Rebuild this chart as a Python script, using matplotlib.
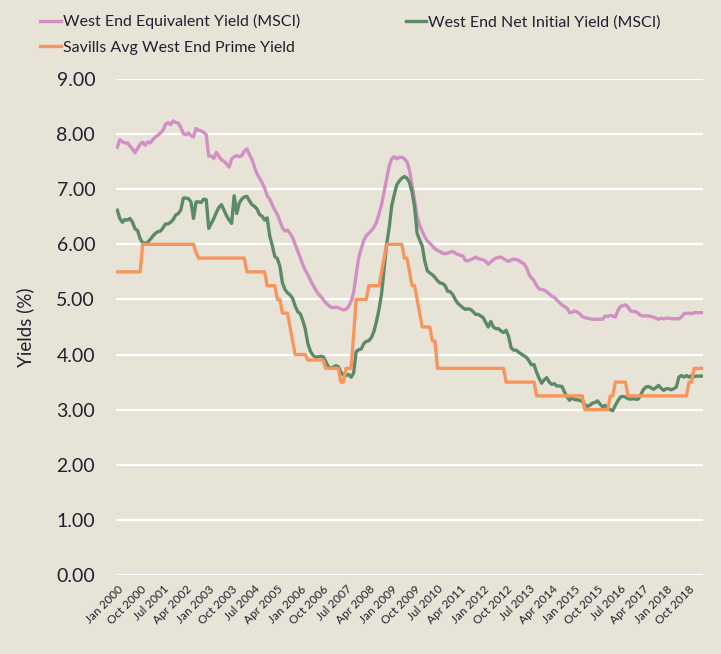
import matplotlib
matplotlib.use("Agg")
import matplotlib.pyplot as plt
import pandas as pd

# ---- data (monthly, Jan 2000 .. Mar 2019) ----
equivalent_yield = [
    7.76, 7.90, 7.86, 7.84, 7.84, 7.78, 7.73, 7.66, 7.74, 7.82,
    7.85, 7.80, 7.86, 7.84, 7.90, 7.95, 7.98, 8.02, 8.07, 8.18,
    8.21, 8.17, 8.24, 8.21, 8.20, 8.12, 8.01, 7.99, 8.02, 7.97,
    7.95, 8.10, 8.07, 8.06, 8.03, 7.99, 7.60, 7.60, 7.56, 7.67,
    7.60, 7.53, 7.51, 7.46, 7.40, 7.55, 7.59, 7.61, 7.59, 7.61,
    7.69, 7.73, 7.63, 7.54, 7.40, 7.28, 7.20, 7.12, 7.02, 6.88,
    6.82, 6.71, 6.62, 6.54, 6.42, 6.30, 6.24, 6.26, 6.20, 6.12,
    6.00, 5.88, 5.76, 5.63, 5.53, 5.45, 5.35, 5.26, 5.18, 5.11,
    5.06, 5.00, 4.94, 4.90, 4.86, 4.85, 4.86, 4.85, 4.83, 4.81,
    4.82, 4.87, 4.96, 5.12, 5.45, 5.75, 5.92, 6.07, 6.16, 6.20,
    6.25, 6.31, 6.40, 6.55, 6.72, 6.95, 7.18, 7.42, 7.55, 7.59,
    7.55, 7.58, 7.58, 7.55, 7.50, 7.35, 7.08, 6.80, 6.50, 6.34,
    6.24, 6.14, 6.06, 6.02, 5.97, 5.92, 5.89, 5.87, 5.84, 5.83,
    5.84, 5.86, 5.87, 5.84, 5.82, 5.80, 5.79, 5.71, 5.70, 5.72,
    5.74, 5.77, 5.74, 5.73, 5.72, 5.69, 5.64, 5.68, 5.72, 5.75,
    5.76, 5.77, 5.74, 5.71, 5.69, 5.72, 5.73, 5.72, 5.71, 5.67,
    5.65, 5.58, 5.46, 5.39, 5.34, 5.25, 5.19, 5.18, 5.17, 5.14,
    5.10, 5.06, 5.04, 4.99, 4.94, 4.90, 4.87, 4.84, 4.76, 4.77,
    4.79, 4.77, 4.74, 4.69, 4.67, 4.66, 4.65, 4.64, 4.64, 4.64,
    4.64, 4.64, 4.70, 4.69, 4.71, 4.70, 4.68, 4.80, 4.87, 4.89,
    4.90, 4.86, 4.79, 4.78, 4.78, 4.75, 4.71, 4.70, 4.70, 4.70,
    4.69, 4.68, 4.66, 4.64, 4.66, 4.65, 4.66, 4.66, 4.65, 4.65,
    4.65, 4.65, 4.68, 4.74, 4.75, 4.75, 4.74, 4.76, 4.76, 4.76,
    4.76,
]

net_initial_yield = [
    6.62, 6.47, 6.40, 6.45, 6.44, 6.47, 6.40, 6.28, 6.25, 6.10,
    6.03, 6.02, 6.04, 6.09, 6.15, 6.20, 6.23, 6.24, 6.30, 6.37,
    6.37, 6.40, 6.45, 6.53, 6.56, 6.62, 6.84, 6.84, 6.83, 6.77,
    6.47, 6.77, 6.77, 6.76, 6.82, 6.81, 6.29, 6.38, 6.47, 6.58,
    6.67, 6.72, 6.62, 6.52, 6.44, 6.38, 6.88, 6.56, 6.75, 6.82,
    6.86, 6.87, 6.79, 6.72, 6.69, 6.64, 6.54, 6.51, 6.44, 6.48,
    6.15, 5.98, 5.78, 5.74, 5.60, 5.30, 5.18, 5.12, 5.08, 5.02,
    4.88, 4.78, 4.74, 4.62, 4.46, 4.20, 4.06, 3.99, 3.95, 3.96,
    3.97, 3.96, 3.88, 3.78, 3.76, 3.77, 3.80, 3.78, 3.68, 3.63,
    3.62, 3.64, 3.59, 3.66, 4.05, 4.09, 4.10, 4.20, 4.24, 4.25,
    4.31, 4.42, 4.60, 4.82, 5.10, 5.55, 6.00, 6.30, 6.70, 6.90,
    7.08, 7.15, 7.20, 7.23, 7.20, 7.12, 6.95, 6.68, 6.20, 6.08,
    5.97, 5.70, 5.52, 5.48, 5.45, 5.40, 5.34, 5.30, 5.29, 5.25,
    5.15, 5.14, 5.09, 5.00, 4.93, 4.89, 4.85, 4.82, 4.83, 4.82,
    4.78, 4.73, 4.73, 4.70, 4.67, 4.58, 4.50, 4.60, 4.50, 4.47,
    4.47, 4.43, 4.40, 4.44, 4.33, 4.12, 4.08, 4.08, 4.04, 4.01,
    3.98, 3.95, 3.89, 3.81, 3.82, 3.68, 3.57, 3.48, 3.54, 3.58,
    3.50, 3.46, 3.47, 3.43, 3.43, 3.42, 3.32, 3.23, 3.17, 3.22,
    3.18, 3.18, 3.17, 3.15, 3.09, 3.06, 3.08, 3.12, 3.13, 3.16,
    3.10, 3.05, 3.08, 3.03, 3.00, 2.98, 3.08, 3.16, 3.23, 3.24,
    3.23, 3.20, 3.19, 3.20, 3.19, 3.19, 3.27, 3.36, 3.41, 3.42,
    3.40, 3.37, 3.40, 3.44, 3.39, 3.35, 3.38, 3.38, 3.36, 3.38,
    3.41, 3.59, 3.62, 3.59, 3.62, 3.59, 3.62, 3.60, 3.61, 3.61,
    3.61,
]

savills_prime = (
    [5.50] * 10 + [6.00] * 21 + [5.85] + [5.75] * 19 + [5.50] * 8 +
    [5.25] * 4 + [5.00] * 2 + [4.75] * 3 + [4.50, 4.25] + [4.00] * 5 +
    [3.90] * 7 + [3.75] * 6 + [3.50] * 2 + [3.75] * 3 + [4.35] +
    [5.00] * 5 + [5.25] * 5 + [5.50, 5.75] + [6.00] * 7 + [5.75] * 2 +
    [5.50] + [5.25] * 2 + [5.00, 4.75] + [4.50] * 4 + [4.25] * 2 +
    [3.75] * 27 + [3.50] * 12 + [3.25] * 19 + [3.00] * 10 + [3.25] * 2 +
    [3.50] * 5 + [3.25] * 24 + [3.50] * 2 + [3.75] * 4
)

months = pd.date_range("2000-01-01", periods=len(equivalent_yield), freq="MS")
month_labels = [d.strftime("%b %Y") for d in months]
tick_step = 9

series_names = ["West End Equivalent Yield (MSCI)",
                "West End Net Initial Yield (MSCI)",
                "Savills Avg West End Prime Yield"]
colors = ["#D18FC4", "#5B8A66", "#F8955C"]

n = min(len(equivalent_yield), len(net_initial_yield), len(savills_prime))
x = list(range(n))

bg = "#E7E3D7"
txt = "#1F2230"
plt.rcParams['font.family'] = ['Lato', 'DejaVu Sans']

fig = plt.figure(figsize=(7.21, 6.54), dpi=100, facecolor=bg)
ax = fig.add_axes([116 / 721, 79 / 654, (703 - 116) / 721, (575 - 79) / 654])
ax.set_facecolor(bg)

l1, = ax.plot(x, equivalent_yield[:n], color=colors[0], lw=2.4, label=series_names[0], zorder=3)
l2, = ax.plot(x, net_initial_yield[:n], color=colors[1], lw=2.4, label=series_names[1], zorder=4)
l3, = ax.plot(x, savills_prime[:n], color=colors[2], lw=2.4, label=series_names[2], zorder=5)

ax.set_ylim(0, 9)
ax.set_xlim(-0.5, n - 0.5)
ax.set_yticks(range(0, 10))
ax.set_yticklabels([f"{v:.2f}" for v in range(0, 10)], fontsize=14, color=txt)
ax.yaxis.grid(True, color="white", lw=1.6)
ax.set_axisbelow(True)
ax.tick_params(axis="y", length=0, pad=15)

tick_idx = list(range(0, n, tick_step))
ax.set_xticks(tick_idx)
ax.set_xticklabels([month_labels[i] for i in tick_idx], rotation=45, ha="right",
                   rotation_mode="anchor", fontsize=8.5, color=txt)
ax.tick_params(axis="x", length=0, pad=6)

for s in ax.spines.values():
    s.set_visible(False)

ax.set_ylabel("Yields (%)", fontsize=13.5, color=txt, labelpad=16)

fig.legend([l1, l3, l2], [series_names[0], series_names[2], series_names[1]],
           ncol=2, loc="upper left", bbox_to_anchor=(26 / 721, 1.0),
           frameon=False, fontsize=11.5, handlelength=1.3, handletextpad=0.12,
           columnspacing=6.6, labelspacing=0.7, labelcolor=txt)

fig.savefig("out.png", dpi=100, facecolor=bg)
